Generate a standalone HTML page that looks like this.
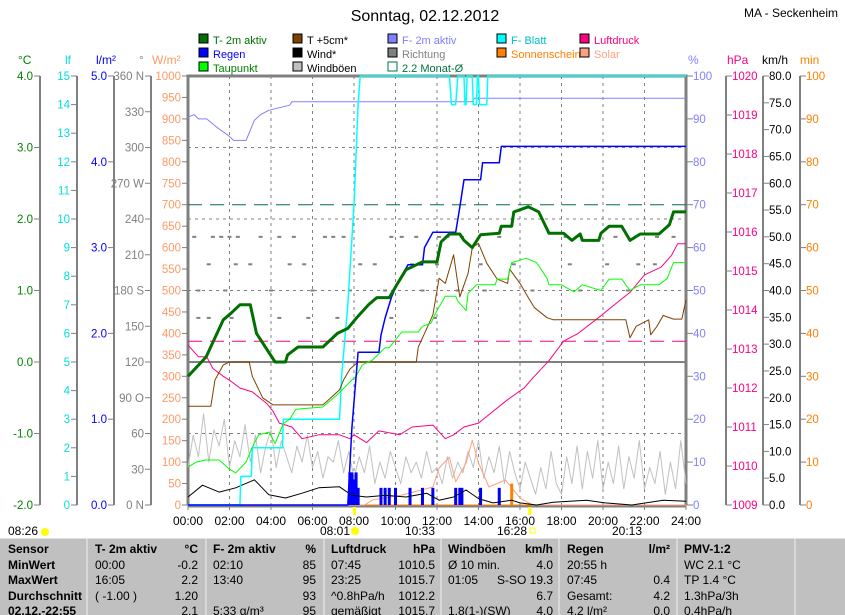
<!DOCTYPE html>
<html><head><meta charset="utf-8">
<style>
body{margin:0;background:#fff;width:845px;height:615px;overflow:hidden;font-family:"Liberation Sans",sans-serif}
svg{position:absolute;left:0;top:0}
text{font-family:"Liberation Sans",sans-serif}
</style></head>
<body>
<svg id="chart" width="845" height="615" viewBox="0 0 845 615">
<text x="425" y="21" text-anchor="middle" font-size="16">Sonntag, 02.12.2012</text>
<text x="838" y="17" text-anchor="end" font-size="12">MA - Seckenheim</text>
<g id="legend"></g>
<g id="axes"></g>
<g id="plot"></g>
<g id="table"></g>
</svg>
<script>
const t2mH=[0,0.87,1.7,2.1,2.5,3.0,3.3,4.2,4.7,4.8,5.3,6.5,7.2,7.7,8.1,8.7,9.1,9.7,10.1,10.5,11.3,12,12.2,12.6,13.1,13.3,13.7,14.1,15,15.1,15.6,15.7,16.4,16.9,17.4,18.1,18.5,18.9,19,19.8,19.9,20.3,20.9,21.3,21.8,22.7,23.2,23.4,24];
const t2mV=[-0.2,0.07,0.59,0.69,0.8,0.8,0.4,0.0,0.0,0.1,0.21,0.21,0.4,0.47,0.61,0.8,0.9,0.9,1.1,1.29,1.4,1.4,1.68,1.79,1.79,1.7,1.6,1.78,1.8,1.9,1.9,2.1,2.17,2.1,1.8,1.8,1.7,1.79,1.7,1.7,1.8,1.9,1.9,1.7,1.79,1.79,1.92,2.1,2.1];
const tpH=[0,0.4,0.85,1.5,2.0,2.3,2.8,3.1,3.4,3.9,4.2,4.6,4.9,5.2,6.5,7.3,7.9,8.1,8.4,8.9,9.5,9.7,10.3,11.1,11.3,11.7,12,12.4,12.9,13.0,13.4,13.5,13.9,14.8,14.9,15.4,15.6,16.3,16.8,17.3,17.4,18,18.6,19,19.9,20.3,20.9,21.3,21.8,22.7,23.1,23.4,24];
const tpV=[-1.47,-1.4,-1.37,-1.37,-1.5,-1.55,-1.4,-1.19,-1.02,-0.98,-1.14,-0.86,-0.8,-0.66,-0.63,-0.43,-0.25,-0.2,-0.04,0.03,0.2,0.2,0.42,0.42,0.5,0.54,0.72,0.92,0.92,0.85,0.72,0.96,1.08,1.08,1.16,1.16,1.39,1.45,1.39,1.17,1.08,1.08,0.98,1.08,1.0,1.16,1.16,1.0,1.08,1.08,1.17,1.39,1.39];
const t5H=[0,1.1,1.3,1.7,2.0,2.95,3.1,3.6,4.1,6.5,6.7,7.3,7.5,7.8,8.2,11,11.1,11.4,11.8,12.1,12.4,12.8,13.0,13.1,13.5,13.7,14.0,14.4,14.9,15.4,15.5,16.0,16.4,16.7,17.3,17.6,21.1,21.3,21.6,22.2,22.3,22.6,22.9,23.4,23.8,24];
const t5V=[-0.62,-0.62,-0.25,-0.04,0.0,0.0,-0.2,-0.5,-0.6,-0.6,-0.55,-0.39,-0.25,-0.1,0.0,0.0,0.21,0.4,0.66,1.17,1.1,1.5,1.1,0.91,1.24,1.6,1.66,1.38,1.16,1.1,1.3,1.1,0.9,0.76,0.62,0.59,0.59,0.34,0.5,0.59,0.38,0.5,0.65,0.6,0.6,0.87];
const rainH=[0,7.7,7.9,8.1,8.2,9.2,9.3,9.5,9.8,10.1,10.6,11.3,11.4,11.8,12.9,13.1,13.3,14.1,14.2,15.0,15.1,24];
const rainV=[0,0,0.9,1.5,1.78,1.78,1.98,2.18,2.42,2.59,2.8,2.8,3.0,3.18,3.18,3.47,3.79,3.79,3.99,3.99,4.18,4.18];
const humH=[0,0.3,0.5,0.9,1.4,1.9,2.2,2.8,3.2,3.5,3.9,4.3,4.9,5.0,13.7,13.8,24];
const humV=[90.4,91,90,90,88,86.3,85,85,89.7,91,92,92.5,93.2,94,94,94.8,94.8];
const leafH=[0,2.5,2.55,3.05,3.1,4.55,4.6,7.3,7.4,7.7,8.0,8.2,8.3,12.6,12.7,12.9,13.0,13.3,13.35,13.4,13.45,13.7,13.75,13.9,13.95,14.0,14.05,14.4,14.45,24];
const leafV=[0,0,1,1,2,2,3,3,4.5,7,10.5,14,15,15,14,14,15,15,14,14,15,15,14,14,15,15,14,14,15,15];
const presH=[0,0.5,0.9,1.2,1.7,2.0,2.5,3.1,3.8,4.1,4.4,5,5.5,6.3,7.3,7.8,8,8.6,9.2,10.2,10.8,11.8,12.4,12.8,13.3,14.0,14.7,15.4,16.2,16.6,17.4,18.1,18.8,19.9,20.7,21.3,22,22.8,23.3,23.6,24];
const presV=[1013.1,1012.8,1012.8,1012.5,1012.3,1012.2,1012.0,1011.9,1011.6,1011.4,1011.1,1011.0,1010.7,1010.8,1010.8,1010.7,1010.8,1010.6,1010.9,1010.8,1011.0,1011.05,1010.7,1010.8,1011.0,1011.1,1011.4,1011.7,1012.0,1012.25,1012.7,1013.2,1013.4,1013.85,1014.2,1014.45,1014.9,1015.1,1015.4,1015.7,1015.7];
const windH=[0,0.7,1.5,2.3,3.2,3.9,4.7,5.5,6.3,7.3,7.9,8.6,9.5,10.5,11.5,12.1,12.8,13.4,14.0,14.7,15.6,16.0,16.8,17.6,19.2,20.1,21.4,22.9,24];
const windV=[1.5,3.7,2.4,3.2,4.7,1.9,1.3,2.2,3.2,3.4,1.8,1.5,1.8,1.5,2.2,0.9,1.5,2.8,1.2,0.4,0.9,0.4,0,0.5,0.9,0.4,0,0.9,0.7];
const gustH=[0,0.25,0.5,0.75,1,1.25,1.5,1.75,2,2.25,2.5,2.75,3,3.25,3.5,3.75,4,4.25,4.5,4.75,5,5.25,5.5,5.75,6,6.25,6.5,6.75,7,7.25,7.5,7.75,8,8.25,8.5,8.75,9,9.25,9.5,9.75,10,10.25,10.5,10.75,11,11.25,11.5,11.75,12,12.25,12.5,12.75,13,13.25,13.5,13.75,14,14.25,14.5,14.75,15,15.25,15.5,15.75,16,16.25,16.5,16.75,17,17.25,17.5,17.75,18,18.25,18.5,18.75,19,19.25,19.5,19.75,20,20.25,20.5,20.75,21,21.25,21.5,21.75,22,22.25,22.5,22.75,23,23.25,23.5,23.75,24];
const gustV=[7,13,9,17,8,14,11,16,7,12,9,15,8,13,6,11,14,7,12,9,6,11,8,13,7,10,5,9,8,12,6,10,5,9,6,11,4,8,5,10,7,4,9,6,8,5,10,6,7,4,9,5,8,6,10,7,12,5,9,6,11,4,10,6,3,8,5,2,7,3,10,4,2,9,4,11,3,10,5,12,3,8,4,11,3,9,5,12,3,7,4,10,2,8,3,12,4,6];
const solarH=[0,8.5,8.9,10.3,11.8,12.1,12.6,12.9,13.4,13.7,14.0,14.5,15.3,16.0,16.6,24];
const solarV=[0,0,12,23,42,86,112,54,98,151,98,42,58,16,0,0];
const rbarH=[7.8,7.9,8.0,8.1,8.2,9.3,9.5,9.7,10.0,10.7,11.3,11.8,12.9,13.1,13.2,14.1,15.0];
const rbarV=[0.38,0.38,0.3,0.38,0.2,0.2,0.2,0.2,0.2,0.2,0.2,0.2,0.2,0.2,0.2,0.2,0.2];
const sunH=[15.6];
const sunV=[5];
const dirH=[0.3,1.2,1.6,2.0,2.4,3.5,4.4,5.1,6.6,7.0,7.5,9.8,10.3,11.0,12.1,12.5,13.2,15.0,18.2,20.6,22.6,23.4,1.0,2.3,3.0,4.9,5.6,8.3,9.0,10.8,12.0,14.1,15.7,18.4,20.2,21.7,22.5,0.5,1.8,4.0,6.0,7.8,9.5,11.3,13.0,14.3,16.6,18.9,21.2,0.5,1.0,2.1,4.4,5.8,7.2,9.8,11.9];
const dirV=[225,225,225,225,225,225,225,225,225,225,225,225,225,225,225,225,225,225,225,225,225,225,202,202,202,202,202,202,202,202,202,202,202,202,202,202,202,180,180,180,180,180,180,180,180,180,180,180,180,157,157,157,157,157,157,157,157];
const xTicks=["00:00","02:00","04:00","06:00","08:00","10:00","12:00","14:00","16:00","18:00","20:00","22:00","24:00"];

const X0=188,X1=686,Y0=76,Y1=505;
const NS='http://www.w3.org/2000/svg';
const xS=h=>X0+(X1-X0)*h/24;
const lin=(a,b)=>v=>Y1-(Y1-Y0)*(v-a)/(b-a);
const yC=lin(-2,4),yLf=lin(0,15),yL=lin(0,5),yDeg=lin(0,360),yW=lin(0,1000),yP=lin(0,100),yH=lin(1009,1020),yK=lin(0,80),yM=lin(0,100);
function el(tag,attrs,parent,txt){const e=document.createElementNS(NS,tag);for(const k in attrs)e.setAttribute(k,attrs[k]);if(txt!==undefined)e.textContent=txt;parent.appendChild(e);return e;}
const axes=document.getElementById('axes'),plot=document.getElementById('plot'),leg=document.getElementById('legend'),tbl=document.getElementById('table');

const legItems=[["T- 2m aktiv","#007000","#007000",199,44],["Regen","#0000ff","#0000ff",199,58],["Taupunkt","#00ff00","#008000",199,72],
["T +5cm*","#804000","#000",293,44],["Wind*","#000","#000",293,58],["Windböen","#c0c0c0","#000",293,72],
["F- 2m aktiv","#8080ff","#8080ff",388,44],["Richtung","#808080","#808080",388,58],["2.2 Monat-Ø","none","#007040",388,72],
["F- Blatt","#00ffff","#00c0c0",497,44],["Sonnenschein","#ff8000","#ff8000",497,58],["Luftdruck","#ff0080","#ff0080",580,44],["Solar","#ffa080","#ffa080",580,58]];
legItems.forEach(it=>{
  const g=el('g',{},leg);
  
  
  el('rect',{x:it[3],y:it[4]-10,width:9,height:9,fill:it[1],stroke:it[1]=="none"?"#007040":"#000","stroke-width":1},g);
  el('text',{x:it[3]+14,y:it[4],"font-size":11,fill:it[2]},g,it[0]);
});

const axDefs=[
 [40,"#008000","°C",18,-2,4,1,v=>v.toFixed(1),'L'],
 [77,"#00e0e0","lf",65,0,15,1,v=>String(v),'L'],
 [114,"#0000ff","l/m²",96,0,5,1,v=>v.toFixed(1),'L'],
 [151,"#808080","°",139,0,360,30,v=>({0:"0 N",90:"90 O",180:"180 S",270:"270 W",360:"360 N"})[v]||String(v),'L'],
 [188,"#ff9966","W/m²",152,0,1000,50,v=>String(v),'L'],
 [687,"#8080ff","%",688,0,100,10,v=>String(v),'R'],
 [726,"#ff0080","hPa",727,1009,1020,1,v=>String(v),'R'],
 [763,"#000","km/h",762,0,80,5,v=>v.toFixed(1),'R'],
 [800,"#ff8000","min",800,0,100,10,v=>String(v),'R']];
axDefs.forEach((a,i)=>{
  const [x,c,u,ux,mn,mx,st,f,side]=a;
  const g=el('g',{},axes);
  
  
  el('text',{x:ux,y:64,"font-size":12,fill:c},g,u);
  if(x!=188&&x!=687) el('line',{x1:x,y1:Y0,x2:x,y2:Y1,stroke:"#808080","stroke-width":2},g);
  const sc=lin(mn,mx);
  for(let v=mn;v<=mx+1e-9;v+=st){
    const y=sc(v);
    if(side=='L'){el('line',{x1:x-6,y1:y,x2:x,y2:y,stroke:"#808080"},g);el('text',{x:x-7,y:y+4,"font-size":11.5,fill:c,"text-anchor":"end"},g,f(v));}
    else{el('line',{x1:x,y1:y,x2:x+6,y2:y,stroke:"#808080"},g);el('text',{x:x+6,y:y+4,"font-size":11.5,fill:c},g,f(v));}
  }
});

for(let i=1;i<12;i++){const x=xS(i*2);const l=el('line',{x1:x,y1:Y0,x2:x,y2:Y1,stroke:"#808080","stroke-dasharray":"3,4"},plot);}
[3,2,1,-1].forEach(v=>{const l=el('line',{x1:X0,y1:yC(v),x2:X1,y2:yC(v),stroke:"#808080","stroke-dasharray":"3,4"},plot);});
const zl=el('line',{x1:X0,y1:yC(0),x2:X1,y2:yC(0),stroke:"#808080","stroke-width":2},plot);


const ml=el('line',{x1:X0,y1:yC(2.2),x2:X1,y2:yC(2.2),stroke:"#007040","stroke-dasharray":"14,8"},plot);


const pl=el('line',{x1:X0,y1:yH(1013.2),x2:X1,y2:yH(1013.2),stroke:"#ff0080","stroke-dasharray":"14,8"},plot);



function series(H,V,ys,color,w,name){
  let d='';H.forEach((h,i)=>{d+=(i?'L':'M')+xS(h).toFixed(1)+','+ys(V[i]).toFixed(1);});
  const p=el('path',{d:d,fill:"none",stroke:color,"stroke-width":w,"stroke-linejoin":"round"},plot);
  
  
}
dirH.forEach((h,i)=>{const r=el('rect',{x:xS(h)-2,y:yDeg(dirV[i])-1,width:4,height:2,fill:"#808080"},plot);});
series(gustH,gustV,yK,"#c0c0c0",1,"gust-line");
series(solarH,solarV,yW,"#ffa080",1,"solar-line");
rbarH.forEach((h,i)=>{const r=el('rect',{x:xS(h)-1.5,y:yL(rbarV[i]),width:3,height:Y1-yL(rbarV[i]),fill:"#0000ff"},plot);});
sunH.forEach((h,i)=>{const r=el('rect',{x:xS(h)-1.5,y:yM(sunV[i]),width:3,height:Y1-yM(sunV[i]),fill:"#ff8000"},plot);});
series(windH,windV,yK,"#000",1,"wind-line");
series(presH,presV,yH,"#ff0080",1,"pressure-line");
series(humH,humV,yP,"#8080ff",1,"humidity-line");
series(leafH,leafV,yLf,"#00ffff",1.5,"leaf-wetness-line");
series(t5H,t5V,yC,"#804000",1,"temp-5cm-line");
series(tpH,tpV,yC,"#00ff00",1,"dewpoint-line");
series(rainH,rainV,yL,"#0000ff",1.5,"rain-total-line");
series(t2mH,t2mV,yC,"#007000",3,"temp-2m-line");

el('path',{d:`M${X0},${Y1}V${Y0}H${X1}V${Y1}`,fill:"none",stroke:"#808080","stroke-width":3},axes);
el('line',{x1:X0,y1:Y1,x2:X1,y2:Y1,stroke:"#ff8000","stroke-width":1},axes);
el('line',{x1:X0,y1:Y1+1.5,x2:X1,y2:Y1+1.5,stroke:"#808080","stroke-width":2},axes);
xTicks.forEach((t,i)=>{const x=xS(i*2);el('line',{x1:x,y1:Y1,x2:x,y2:Y1+5,stroke:"#808080"},axes);
 const tx=el('text',{x:x,y:525,"font-size":12,"text-anchor":"middle"},axes,t);});
[[8.0],[16.45]].forEach(a=>el('rect',{x:xS(a[0])-1,y:Y1+2,width:3,height:8,fill:"#ffff00"},axes));
[["08:26",8],["08:01",320],["10:33",405],["16:28",497],["20:13",612]].forEach(a=>el('text',{x:a[1],y:535,"font-size":12},axes,a[0]));
el('circle',{cx:45,cy:532,r:4,fill:"#ffff00"},axes);
el('circle',{cx:355,cy:531,r:4,fill:"#ffff00"},axes);
el('rect',{x:530,y:528,width:5,height:5,fill:"none",stroke:"#ffff00"},axes);

el('rect',{x:0,y:538,width:845,height:77,fill:"#c0c0c0"},tbl);
el('line',{x1:0,y1:538.5,x2:845,y2:538.5,stroke:"#e0e0e0"},tbl);
[87,206,324,441,559,677,795].forEach(x=>el('line',{x1:x,y1:538,x2:x,y2:615,stroke:"#f0f0f0"},tbl));
const rows=[553,569,584,600,615];
const cells=[
 [8,["Sensor","MinWert","MaxWert","Durchschnitt","02.12.-22:55"],"start",true],
 [95,["T- 2m aktiv","  00:00","  16:05","  ( -1.00 )",""],"start",false],
 [198,["°C","-0.2","2.2","1.20","2.1"],"end",false],
 [213,["F- 2m aktiv","  02:10","  13:40","","  5:33 g/m³"],"start",false],
 [316,["%","85","95","93","95"],"end",false],
 [331,["Luftdruck","  07:45","  23:25","^0.8hPa/h","  gemäßigt"],"start",false],
 [435,["hPa","1010.5","1015.7","1012.2","1015.7"],"end",false],
 [448,["Windböen","Ø 10 min.","  01:05","","  1.8(1-)(SW)"],"start",false],
 [553,["km/h","4.0","S-SO 19.3","6.7","4.0"],"end",false],
 [567,["Regen","20:55 h","  07:45","Gesamt:","  4.2 l/m²"],"start",false],
 [670,["l/m²","","0.4","4.2","0.0"],"end",false],
 [684,["PMV-1:2","WC 2.1 °C","TP 1.4 °C","1.3hPa/3h","0.4hPa/h"],"start",false]];
cells.forEach(c=>{c[1].forEach((t,i)=>{if(!t)return;const bold=c[3]||i==0;
 const tx=el('text',{x:c[0],y:rows[i],"font-size":12,"text-anchor":c[2],"font-weight":bold?"bold":"normal","xml:space":"preserve"},tbl,t);
 });});
</script>
</body></html>
